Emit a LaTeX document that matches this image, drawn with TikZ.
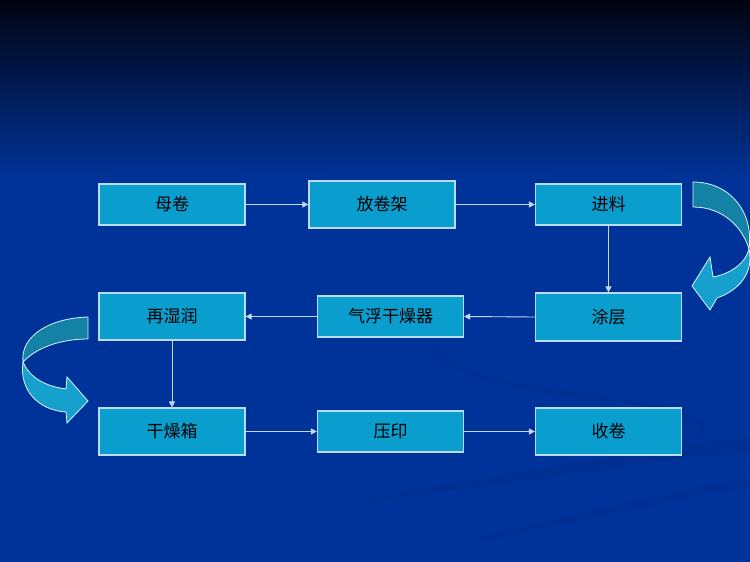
\documentclass[tikz,border=0pt]{standalone}
\usepackage{fontspec}
\newfontfamily\cjk{Noto Sans CJK SC}
\usetikzlibrary{arrows.meta}
\definecolor{bgtop}{RGB}{2,3,16}
\definecolor{bgmain}{RGB}{0,51,153}
\definecolor{boxfill}{RGB}{10,158,206}
\definecolor{boxline}{RGB}{185,220,238}
\definecolor{linkc}{RGB}{200,215,240}
\definecolor{ribdark}{RGB}{20,130,165}
\definecolor{riblight}{RGB}{22,160,205}
\definecolor{swoosh}{RGB}{0,40,130}
\tikzset{
  stepbox/.style={draw=boxline, line width=1.2pt, fill=boxfill, minimum width=146pt,
    inner sep=0pt, font=\cjk\fontsize{17}{20}\selectfont, text=black},
  link/.style={draw=linkc, line width=0.9pt, -{Triangle[width=6pt,length=6pt]}},
  ribbon/.style={draw=white!85!cyan, line width=0.8pt},
}
\begin{document}
\begin{tikzpicture}[x=1pt,y=-1pt]
\useasboundingbox (0,0) rectangle (750,562);
% background
\fill[bgmain] (0,178) rectangle (750,562);
\shade[top color=bgtop, bottom color=bgmain] (0,0) rectangle (750,180);
% faint swooshes
\draw[swoosh, opacity=0.3, line width=4pt, line cap=round]
  (433,348) .. controls (445,375) and (520,388) .. (600,398)
  .. controls (680,408) and (712,420) .. (700,435);
\fill[swoosh, opacity=0.3]
  (330,505) .. controls (480,480) and (640,448) .. (750,437)
  -- (750,452) .. controls (640,462) and (480,490) .. (330,505) -- cycle;
\fill[swoosh, opacity=0.2]
  (420,552) .. controls (560,518) and (660,492) .. (750,478)
  -- (750,486) .. controls (660,502) and (560,528) .. (420,552) -- cycle;
% boxes
\node[stepbox, minimum height=41pt] (a) at (172,204.5) {母卷};
\node[stepbox, minimum height=47pt] (b) at (382,204.5) {放卷架};
\node[stepbox, minimum height=41pt] (c) at (608.5,204.5) {进料};
\node[stepbox, minimum height=48pt] (d) at (608.5,317) {涂层};
\node[stepbox, minimum height=41pt] (e) at (390.5,316.5) {气浮干燥器};
\node[stepbox, minimum height=47pt] (f) at (172,316.5) {再湿润};
\node[stepbox, minimum height=47pt] (g) at (172,431.5) {干燥箱};
\node[stepbox, minimum height=41pt] (h) at (390.5,431.5) {压印};
\node[stepbox, minimum height=47pt] (i) at (608.5,431.5) {收卷};
% connectors
\draw[link] (a.east) -- (b.west);
\draw[link] (b.east) -- (c.west);
\draw[link] (c.south) -- (d.north);
\draw[link] (d.west) -- (e.east);
\draw[link] (e.west) -- (f.east);
\draw[link] (f.south) -- (g.north);
\draw[link] (g.east) -- (h.west);
\draw[link] (h.east) -- (i.west);
% right curved arrow
\filldraw[ribbon, fill=ribdark]
  (693,182) .. controls (730,182) and (754,212) .. (749,249)
  .. controls (742,226) and (722,207) .. (693,207) -- cycle;
\filldraw[ribbon, fill=riblight]
  (749,249) .. controls (746,263) and (730,274) .. (713,277)
  -- (710,257) -- (692,286) -- (710,310) -- (717,298)
  .. controls (740,290) and (754,272) .. (749,249) -- cycle;
% left curved arrow
\filldraw[ribbon, fill=ribdark]
  (88,317) .. controls (50,318) and (20,336) .. (23,362)
  .. controls (36,348) and (60,339) .. (88,339) -- cycle;
\filldraw[ribbon, fill=riblight]
  (23,362) .. controls (30,378) and (45,386) .. (66,389)
  -- (67,377) -- (88,401) -- (67,423) -- (66,412)
  .. controls (38,410) and (19,390) .. (23,362) -- cycle;
\end{tikzpicture}
\end{document}
